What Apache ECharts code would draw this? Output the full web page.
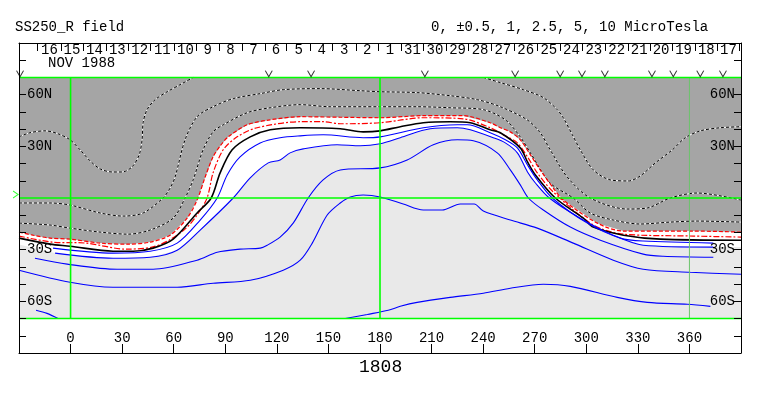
<!DOCTYPE html>
<html><head><meta charset="utf-8">
<style>html,body{margin:0;padding:0;background:#fff}#c{width:763px;height:396px}</style>
<script src="https://cdn.jsdelivr.net/npm/echarts@6/dist/echarts.min.js"></script>
</head><body><div id="c"></div>
<script>
// Contours as [longitude, latitude]
const dotted1a=[[-30,35.5],[-23.6,37.9],[-14.8,39],[-7.3,37.3],[-0.3,33.8],[5.5,28],[11.3,21.6],[17.2,16.9],[24.2,15.1],[30,15.1],[35.8,18.1],[39.9,25],[41.6,33.8],[42.2,43.7],[44.5,51.3],[49.2,57.1],[56.2,61.7],[63.7,65.8],[71.3,70]];
const dotted1b=[[240.1,70],[250,67],[263.4,62.9],[275,58.3],[283.1,51.3],[286.6,46.6],[291.9,36.7],[296.5,28],[304.1,16.3],[314,10.5],[324.5,9.9],[331.4,12.8],[340.2,20.4],[350.1,28],[357.6,35],[366.4,39],[378,40.8],[390,41.4]];
const dotted2=[[-30,-2.9],[-11.9,-2.9],[-0.3,-4.1],[17.2,-8.7],[30.6,-10.5],[42.2,-8.7],[53.8,0],[57.9,5.8],[60.8,12.2],[66.6,33.8],[73.6,47.2],[82.9,53],[94.6,57.7],[110.3,60.6],[123.7,62.9],[145.2,63.5],[168.5,62.3],[180.1,61.7],[201.6,61.2],[220.8,59.4],[236.6,57.1],[250,53],[265.6,45.4],[273.2,37.9],[279,28],[288.9,12.2],[302.3,0],[323.8,-6.4],[335.5,-5.8],[348.8,0],[364.5,2.9],[390,-1.2]];
const dotted3=[[-30,-14.6],[-11.9,-15.7],[-0.3,-17.5],[17.2,-19.8],[33.5,-21],[46.3,-18.6],[59.7,-11.7],[66.6,0],[71.3,10.5],[77.1,28],[82.9,38.4],[88.8,42.5],[102.7,49.5],[116.1,52.4],[133.6,54.2],[151,53],[180.1,53],[201.6,53],[220.8,52.4],[240.1,51.3],[252.9,45.4],[261.6,35.5],[267.5,26.2],[279,8.7],[292.4,0],[302.3,-8.7],[315.7,-12.8],[331.4,-15.1],[348.8,-14],[364.5,-13.4],[390,-14]];
const red1=[[-30,-19.8],[-21.9,-21.6],[-11.9,-23.3],[-0.3,-23.9],[17.2,-26.2],[33.5,-26.8],[46.3,-25.6],[57.9,-21.6],[67.8,-11.7],[73.6,-1.2],[78.3,12.2],[82.9,23.9],[87.1,30.3],[91.7,35.5],[102.7,42.5],[116.1,45.4],[133.6,47.2],[156.9,46.9],[180.1,46.6],[205.2,47.8],[228.4,47.8],[244.1,43.7],[250,40.8],[255.8,38.4],[261.6,33.8],[267.5,25],[273.2,16.3],[280.8,5.8],[286.6,-1.2],[306.4,-14.6],[321.6,-19.2],[362.3,-19.2],[390,-19.8]];
const red2=[[-30,-22.1],[-10.8,-25.6],[9,-26.2],[32.3,-29.7],[47.4,-28.5],[57.3,-24.5],[67.2,-17.5],[73.6,-9.9],[79.4,0],[82.9,14.6],[88.8,28],[96.9,35.5],[108.5,40.8],[133.6,44.3],[147,44.3],[156.9,43.1],[180.1,43.7],[205.2,46.6],[228.4,46],[244.1,40.8],[252.9,36.1],[259.9,32],[265.8,23.9],[271.5,14.6],[280.8,3.5],[304.1,-15.7],[321.6,-21],[362.3,-22.1],[390,-22.7]];
const black0=[[-30,-23.3],[-11.9,-26.8],[-0.3,-28],[24.7,-30.9],[36.4,-30.9],[48,-29.1],[59.7,-23.9],[73.6,-8.7],[81.8,0],[87,14.6],[94,28],[104.5,35.5],[116.1,39.6],[133.6,40.8],[156.9,40.2],[170.2,38.4],[180.1,39],[191.8,41.4],[205.2,43.7],[220.8,44.3],[232.5,43.7],[244.1,39.6],[250,37.9],[261.6,29.1],[265.8,21],[270.4,13.4],[282,0],[298.3,-11.7],[304.1,-16.9],[321.6,-21.6],[343.1,-23.9],[390,-24.5]];
const blue1=[[-10.2,-29.1],[24.7,-32],[46.3,-30.9],[62,-26.2],[75.4,-12.8],[85.3,0],[91.1,13.4],[98.6,23.9],[110.3,32],[121.9,35],[133.6,36.1],[147,36.7],[170.2,35],[180.1,35.5],[205.2,40.8],[225,42.5],[230.8,42.5],[244.1,37.9],[252.9,33.8],[259.9,29.1],[265.8,19.2],[271.5,10.5],[280.2,0],[300.6,-14.6],[319.8,-23.3],[333.1,-25],[373.9,-26.2]];
const blue2=[[-9,-32],[24.7,-35],[46.3,-34.4],[62,-30.3],[75.4,-18.6],[94.6,0],[104.5,11.7],[115,20.4],[121.9,22.1],[127.7,26.2],[135.3,28.5],[155,30.9],[168.5,30.3],[180.1,31.5],[191.8,35],[209.2,40.2],[225,40.8],[232.5,39.6],[245.9,35],[252.9,32],[259.9,26.2],[265.8,15.1],[270.4,8.7],[278.5,0],[296.5,-11.7],[315.7,-21.6],[333.1,-27.4],[373.9,-28.5]];
const blue3=[[-20.7,-35],[-2,-38.4],[27.1,-41.4],[48,-41.4],[73.6,-36.1],[85.3,-31.5],[98.6,-29.7],[110.3,-29.1],[114.4,-27.4],[121.9,-22.7],[129.5,-14.6],[138.2,0],[146.9,10.5],[156.9,16.3],[180.1,17.5],[195.8,22.1],[211,30.9],[225,33.8],[234.3,33.2],[248.2,26.2],[255.8,16.3],[261.6,7.6],[266.3,0],[275,-7],[290.7,-16.9],[308.2,-24.5],[333.1,-32.6],[344.8,-33.8],[373.9,-34.4]];
const blue4=[[-30,-41.9],[-0.3,-48.9],[24.7,-51.8],[62,-51.8],[82.9,-49.5],[104.5,-47.8],[123.7,-41.9],[133.6,-36.1],[140.6,-26.2],[149.3,-9.9],[156.9,-2.9],[162.7,0.6],[170.2,1.7],[180.1,0.6],[193.5,-3.5],[205.2,-7],[216.2,-7],[226.7,-3.5],[234.8,-3.5],[240.1,-7.6],[255.8,-12.8],[271.5,-17.5],[292.4,-26.2],[315.7,-36.1],[333.1,-41.4],[360.5,-43.1],[390,-44.3]];
const blue5=[[159.8,-70],[172.6,-67.6],[184.8,-65.2],[191.8,-62.9],[201.6,-60.6],[220.8,-57.7],[240.1,-55.3],[255.8,-52.4],[275,-50.1],[290.7,-51.3],[318,-57.7],[335.5,-60.6],[358.8,-61.7],[372.2,-62.9]];
const blue6=[[-20.1,-65.2],[-13.7,-67],[-7.3,-70]];

const lonMin=-30, lonMax=390, latMin=-90, latMax=90, bandTop=70, bandBottom=-70;
const lonTicks=[0,30,60,90,120,150,180,210,240,270,300,330,360];
const latTicks=[80,60,50,40,30,20,10,-10,-20,-30,-40,-50,-60,-70,-80];
const latLabels=[60,30,-30,-60];
const dayLabels=['16','15','14','13','12','11','10','9','8','7','6','5','4','3','2','1','31','30','29','28','27','26','25','24','23','22','21','20','19','18','17'];
const dayTicks=[-19.1,-5.5,7.1,20.6,33.8,46.6,60.2,73.4,86.2,99.7,113.1,125.7,139.7,152.5,165.9,179.1,192.5,205.3,218.7,231.5,244.9,258,271.5,284.9,297.9,310.9,324.5,337.1,349.9,363.3,376.4,389];
const vMarks=[-29.4,115.3,139.9,206.1,258.6,284.8,297.5,310.8,338.2,350.6,366.3,379.5];
const vLat=72.2;
const greenMeridians=[0,180];
const dimMeridians=[360];
const greenParallels=[70,0,-70];
const edgeMark=[[-32,2]];
const whiteLeftEdge=[[-30,-27]], whiteRightEdge=[[390,-28.5]];

const FONT='"Liberation Mono",monospace';
const GREEN='#00ff00', DIM='#6cc46c', DARK='#a5a5a5', LIGHT='#e9e9e9';

function poly(pts,color,z){
  return {type:'custom',silent:true,z:z,coordinateSystem:'cartesian2d',clip:true,data:[0],
    renderItem:function(p,api){
      return {type:'polygon',shape:{points:pts.map(function(q){return api.coord(q);})},style:{fill:color}};
    }};
}
function line(data,color,width,dash,z){
  return {type:'line',data:data,symbol:'none',silent:true,smooth:0.3,z:z,clip:true,
    lineStyle:{color:color,width:width,type:dash||'solid',cap:'butt'}};
}
function straight(data,color,width,z){
  return {type:'line',data:data,symbol:'none',silent:true,z:z,clip:true,lineStyle:{color:color,width:width}};
}
const midDays=dayLabels.map(function(_,i){return (dayTicks[i]+dayTicks[i+1])/2;});
const series=[
  poly([[lonMin,bandTop],[lonMax,bandTop],[lonMax,bandBottom],[lonMin,bandBottom]],LIGHT,1),
  poly(red1.concat(whiteRightEdge,blue2.slice().reverse(),whiteLeftEdge),'#ffffff',2),
  poly(red1.concat([[lonMax,bandTop],[lonMin,bandTop]]),DARK,3)
];
[dotted1a,dotted1b,dotted2,dotted3].forEach(function(d){
  series.push(line(d,'#ffffff',1,'solid',4));
  series.push(line(d,'#000000',1,[3,2],5));
});
series.push(line(red1,'#ff0000',1.2,[4,2],5));
series.push(line(red2,'#ff0000',1.2,[6,2,2,2],5));
series.push(line(black0,'#000000',1.6,'solid',5));
[blue1,blue2,blue3,blue4,blue5,blue6].forEach(function(d){series.push(line(d,'#0000ff',1.1,'solid',5));});
greenMeridians.forEach(function(l){series.push(straight([[l,bandBottom],[l,bandTop]],GREEN,1.6,6));});
dimMeridians.forEach(function(l){series.push(straight([[l,bandBottom],[l,bandTop]],DIM,1,6));});
greenParallels.forEach(function(l){series.push(straight([[lonMin,l],[lonMax,l]],GREEN,1.6,6));});
series.push({type:'scatter',silent:true,z:7,clip:false,data:vMarks.map(function(l){return [l,vLat];}),
  symbol:'path://M0,0L5,10L10,0',symbolSize:[7,6],itemStyle:{color:'rgba(0,0,0,0)',borderColor:'#000',borderWidth:1}});
series.push({type:'scatter',silent:true,z:7,clip:false,data:edgeMark,
  symbol:'path://M0,0L10,5L0,10',symbolSize:[5,7],itemStyle:{color:'rgba(0,0,0,0)',borderColor:GREEN,borderWidth:1}});

function latFmt(v){return Math.abs(v)+(v>0?'N':'S');}
function yAxis(pos){
  return {type:'value',position:pos,min:latMin,max:latMax,interval:10,z:10,splitLine:{show:false},
    axisLine:{show:true,onZero:false,lineStyle:{color:'#000',width:1}},
    axisTick:{show:true,inside:true,length:7,customValues:latTicks,lineStyle:{color:'#000'}},
    axisLabel:{show:true,inside:true,margin:pos==='left'?8:6,customValues:latLabels,formatter:latFmt,
      color:'#000',fontFamily:FONT,fontSize:14}};
}
const chart=echarts.init(document.getElementById('c'),null,{renderer:'canvas'});
chart.setOption({
  animation:false,backgroundColor:'#fff',
  grid:{left:19,right:22,top:43,bottom:43,containLabel:false},
  title:[
    {text:'SS250_R field',left:15,top:20,padding:0,textStyle:{fontFamily:FONT,fontSize:14,fontWeight:'normal',color:'#000'}},
    {text:'0, \u00b10.5, 1, 2.5, 5, 10 MicroTesla',left:431,top:20,padding:0,textStyle:{fontFamily:FONT,fontSize:14,fontWeight:'normal',color:'#000'}},
    {text:'NOV 1988',left:48,top:56,padding:0,textStyle:{fontFamily:FONT,fontSize:14,fontWeight:'normal',color:'#000'}},
    {text:'1808',left:359,top:358,padding:0,textStyle:{fontFamily:FONT,fontSize:18,fontWeight:'normal',color:'#000'}}
  ],
  xAxis:[
    {type:'value',position:'bottom',min:lonMin,max:lonMax,interval:30,z:10,splitLine:{show:false},
     axisLine:{show:true,onZero:false,lineStyle:{color:'#000',width:1}},
     axisTick:{show:true,inside:true,length:9,customValues:lonTicks,lineStyle:{color:'#000'}},
     axisLabel:{show:true,inside:true,margin:8,customValues:lonTicks,color:'#000',fontFamily:FONT,fontSize:14}},
    {type:'value',position:'top',min:lonMin,max:lonMax,interval:30,z:10,splitLine:{show:false},
     axisLine:{show:true,onZero:false,lineStyle:{color:'#000',width:1}},
     axisTick:{show:true,inside:true,length:8,customValues:dayTicks,lineStyle:{color:'#000'}},
     axisLabel:{show:true,inside:true,margin:0,hideOverlap:false,showMinLabel:true,showMaxLabel:true,customValues:midDays,color:'#000',fontFamily:FONT,fontSize:14,
       formatter:function(v){var i=midDays.findIndex(function(m){return Math.abs(m-v)<0.01;});return i<0?'':dayLabels[i];}}}
  ],
  yAxis:[yAxis('left'),yAxis('right')],
  series:series
});
</script></body></html>
